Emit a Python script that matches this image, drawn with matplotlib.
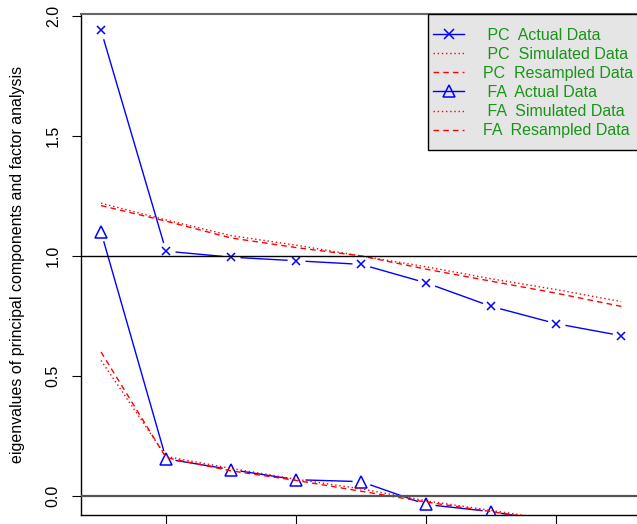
import matplotlib
matplotlib.use('Agg')
import matplotlib.pyplot as plt
from matplotlib.lines import Line2D
from matplotlib.patches import Rectangle

plt.rcParams['font.family'] = ['Liberation Sans', 'DejaVu Sans']

# 数据：因子/主成分序号与特征值
factor_num = [1, 2, 3, 4, 5, 6, 7, 8, 9]
pc_actual = [1.94, 1.02, 0.995, 0.98, 0.965, 0.888, 0.79, 0.718, 0.668]
pc_simulated = [1.22, 1.15, 1.085, 1.045, 1.0, 0.955, 0.905, 0.86, 0.81]
pc_resampled = [1.21, 1.145, 1.075, 1.035, 1.0, 0.945, 0.895, 0.845, 0.79]
fa_actual = [1.10, 0.155, 0.11, 0.068, 0.06, -0.035, -0.065, -0.11, -0.15]
fa_simulated = [0.565, 0.165, 0.115, 0.07, 0.03, -0.02, -0.06, -0.10, -0.14]
fa_resampled = [0.60, 0.16, 0.105, 0.065, 0.02, -0.025, -0.065, -0.105, -0.145]
legend_labels = [' PC  Actual Data', ' PC  Simulated Data', 'PC  Resampled Data',
                 ' FA  Actual Data', ' FA  Simulated Data', 'FA  Resampled Data']
y_ticks = [0.0, 0.5, 1.0, 1.5, 2.0]
x_ticks = [2, 4, 6, 8]

W, H = 637, 524
fig = plt.figure(figsize=(W / 100, H / 100), dpi=100)
# 坐标区超出画布右侧（原图被裁剪）
ax = fig.add_axes([81 / W, 1 - 515 / H, (642 - 81) / W, (515 - 13.5) / H])
ax.set_xlim(0.692, 9.32)
ax.set_ylim(-0.079, 2.01)

blue = '#0000FF'
red = '#FF0000'

# R 的 type="b"：线段在点附近断开，用白色圆点遮挡
for ys, mk, ms in [(pc_actual, 'x', 6), (fa_actual, '^', 8)]:
    ax.plot(factor_num, ys, color=blue, lw=1, zorder=2)
    ax.plot(factor_num, ys, 'o', color='white', ms=13, mec='none', zorder=2.5)
    ax.plot(factor_num, ys, mk, color=blue, ms=ms, mfc='none', mew=1.1, zorder=3)

ax.plot(factor_num, pc_simulated, color=red, lw=1, ls=(0, (1, 2)), zorder=4)
ax.plot(factor_num, pc_resampled, color=red, lw=1, ls=(0, (4, 3)), zorder=4)
ax.plot(factor_num, fa_simulated, color=red, lw=1, ls=(0, (1, 2)), zorder=4)
ax.plot(factor_num, fa_resampled, color=red, lw=1, ls=(0, (4, 3)), zorder=4)

ax.axhline(1.0, color='black', lw=1, zorder=5)
ax.axhline(0.0, color='#555555', lw=1.6, zorder=5)

ax.set_yticks(y_ticks)
ax.set_yticklabels([f'{v:.1f}' for v in y_ticks], rotation=90, va='center', fontsize=11.5)
ax.set_xticks(x_ticks)
ax.tick_params(axis='both', direction='out', length=6.5, width=0.8, pad=8)
ax.tick_params(axis='x', labelbottom=False)
ax.set_ylabel('eigenvalues of principal components and factor analysis', fontsize=11.5, labelpad=15)

for s in ax.spines.values():
    s.set_linewidth(1)
ax.spines['top'].set_color('#666666')
ax.spines['top'].set_linewidth(1.5)

# 图例外框（灰底黑边，右侧被裁掉）
ax.add_patch(Rectangle((428 / W, 1 - 150 / H), 220 / W, (150 - 14) / H,
                       transform=fig.transFigure, facecolor='#E5E5E5',
                       edgecolor='black', lw=1, zorder=9, clip_on=False))

handles = [
    Line2D([], [], color=blue, lw=1, marker='x', ms=6.5, mew=1.1),
    Line2D([], [], color=red, lw=1, ls=(0, (1, 2))),
    Line2D([], [], color=red, lw=1, ls=(0, (4, 3))),
    Line2D([], [], color=blue, lw=1, marker='^', ms=8, mfc='none', mew=1.1),
    Line2D([], [], color=red, lw=1, ls=(0, (1, 2))),
    Line2D([], [], color=red, lw=1, ls=(0, (4, 3))),
]
leg = ax.legend(handles, legend_labels, loc='upper left',
                bbox_to_anchor=(433 / W, 1 - 27.5 / H), bbox_transform=fig.transFigure,
                fontsize=11.5, labelcolor='#189418', handlelength=1.95, handletextpad=1.2,
                labelspacing=0.26, borderpad=0, borderaxespad=0, frameon=False)
leg.set_zorder(10)

fig.savefig('out.png', dpi=100)
